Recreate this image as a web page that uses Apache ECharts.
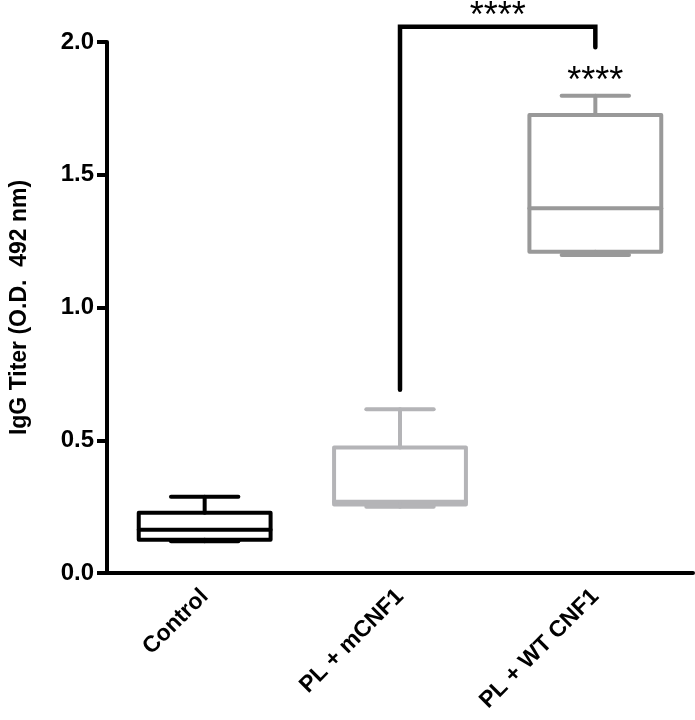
<!DOCTYPE html>
<html>
<head>
<meta charset="utf-8">
<script src="https://cdn.jsdelivr.net/npm/echarts@6/dist/echarts.min.js"></script>
<style>
  html, body { margin: 0; padding: 0; background: #fff; }
  #chart { width: 695px; height: 720px; }
</style>
</head>
<body>
<div id="chart"></div>
<script>
// groups
const categories = ['Control', 'PL + mCNF1', 'PL + WT CNF1'];
// box stats
const minVals = [0.12, 0.25, 1.198];
const q1Vals = [0.125, 0.258, 1.21];
const medianVals = [0.163, 0.268, 1.374];
const q3Vals = [0.227, 0.473, 1.725];
const maxVals = [0.287, 0.617, 1.798];
const boxColors = ['#000000', '#b4b4b7', '#999999'];
// y ticks
const yTicks = [0, 0.5, 1.0, 1.5, 2.0];
// significance
const bracketFrom = 1, bracketTo = 2;
const bracketTop = 2.057, bracketLeftEnd = 0.69, bracketRightEnd = 1.98;
const starText = '****';
const starAbove = [null, null, '****'];

const chart = echarts.init(document.getElementById('chart'));

const boxData = categories.map((c, i) => [i, minVals[i], q1Vals[i], medianVals[i], q3Vals[i], maxVals[i]]);

const option = {
  animation: false,
  backgroundColor: '#fff',
  grid: { left: 102, right: 2, top: 42, bottom: 147 },
  xAxis: {
    type: 'category',
    data: categories,
    axisLine: { lineStyle: { color: '#000', width: 4 } },
    axisTick: { alignWithLabel: true, length: 10, lineStyle: { width: 4, color: '#000' } },
    axisLabel: {
      rotate: 45, margin: 20, color: '#000',
      fontFamily: 'Liberation Sans', fontWeight: 'bold', fontSize: 23
    }
  },
  yAxis: {
    type: 'value',
    min: yTicks[0], max: yTicks[yTicks.length - 1], interval: 0.5,
    name: 'IgG Titer (O.D.  492 nm)',
    nameLocation: 'middle', nameGap: 76,
    nameTextStyle: { fontFamily: 'Liberation Sans', fontWeight: 'bold', fontSize: 23, color: '#000' },
    axisLine: { show: true, lineStyle: { color: '#000', width: 4 } },
    axisTick: { show: true, length: 10, lineStyle: { width: 4, color: '#000' } },
    splitLine: { show: false },
    axisLabel: {
      margin: 13, color: '#000',
      fontFamily: 'Liberation Sans', fontWeight: 'bold', fontSize: 24,
      formatter: v => v.toFixed(1)
    }
  },
  series: [
    {
      type: 'custom',
      clip: false,
      data: boxData,
      renderItem: (params, api) => {
        const i = api.value(0);
        const band = api.size([1, 0])[0];
        const bw = band * 0.675, cw = band * 0.345;
        const pMin = api.coord([i, api.value(1)]);
        const pQ1 = api.coord([i, api.value(2)]);
        const pMed = api.coord([i, api.value(3)]);
        const pQ3 = api.coord([i, api.value(4)]);
        const pMax = api.coord([i, api.value(5)]);
        const cx = pMed[0];
        const style = { stroke: boxColors[i], lineWidth: 4, fill: null, lineCap: 'round', lineJoin: 'round' };
        const line = (x1, y1, x2, y2) => ({ type: 'line', shape: { x1, y1, x2, y2 }, style });
        return {
          type: 'group',
          children: [
            { type: 'rect', shape: { x: cx - bw / 2, y: pQ3[1], width: bw, height: pQ1[1] - pQ3[1] }, style },
            line(cx - bw / 2, pMed[1], cx + bw / 2, pMed[1]),
            line(cx, pQ3[1], cx, pMax[1]),
            line(cx - cw / 2, pMax[1], cx + cw / 2, pMax[1]),
            line(cx, pQ1[1], cx, pMin[1]),
            line(cx - cw / 2, pMin[1], cx + cw / 2, pMin[1])
          ]
        };
      }
    },
    {
      type: 'custom',
      clip: false,
      data: [[bracketFrom, bracketTo, bracketTop, bracketLeftEnd, bracketRightEnd]],
      renderItem: (params, api) => {
        const a = api.coord([api.value(0), api.value(3)]);
        const b = api.coord([api.value(1), api.value(4)]);
        const top = api.coord([api.value(0), api.value(2)])[1];
        return {
          type: 'group',
          children: [
            {
              type: 'polyline',
              shape: { points: [[a[0], a[1]], [a[0], top], [b[0], top], [b[0], b[1]]] },
              style: { stroke: '#000', lineWidth: 4.5, fill: null, lineCap: 'round', lineJoin: 'miter' }
            },
            {
              type: 'text',
              style: {
                x: (a[0] + b[0]) / 2, y: top - 10, text: starText,
                align: 'center', verticalAlign: 'middle',
                fontFamily: 'Liberation Sans', fontSize: 36, fill: '#000'
              }
            }
          ]
        };
      }
    },
    {
      type: 'custom',
      clip: false,
      data: categories.map((c, i) => [i, maxVals[i]]).filter((d, i) => starAbove[i]),
      renderItem: (params, api) => {
        const p = api.coord([api.value(0), api.value(1)]);
        return {
          type: 'text',
          style: {
            x: p[0], y: p[1] - 14, text: starAbove[api.value(0)],
            align: 'center', verticalAlign: 'middle',
            fontFamily: 'Liberation Sans', fontSize: 36, fill: '#000'
          }
        };
      }
    }
  ]
};

chart.setOption(option);
</script>
</body>
</html>
